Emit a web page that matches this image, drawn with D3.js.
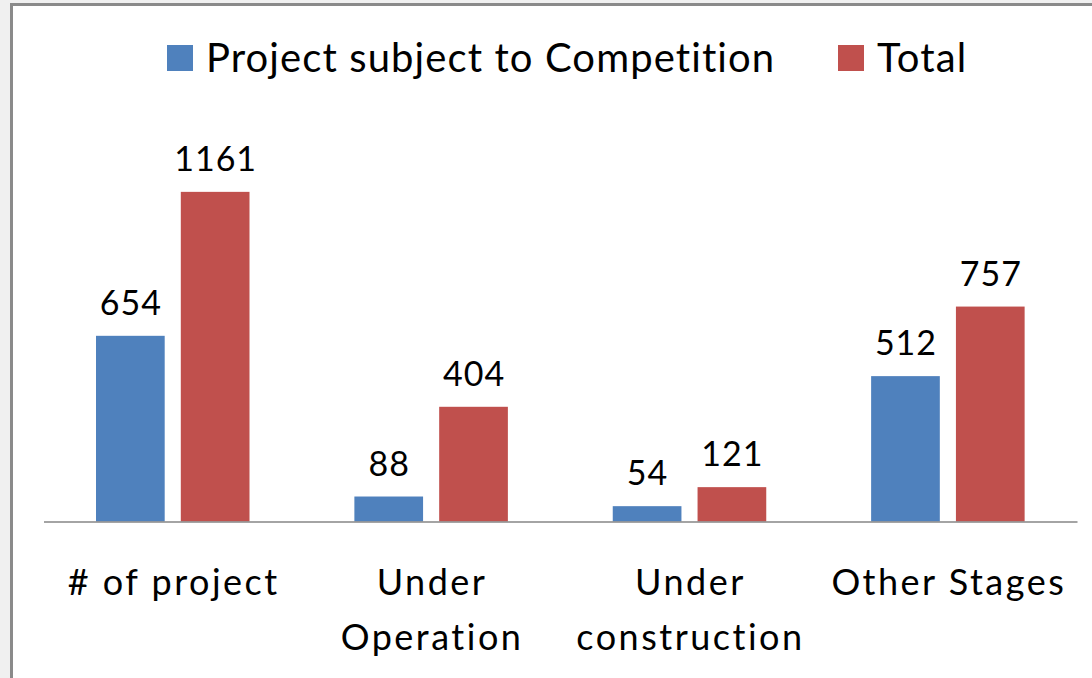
<!DOCTYPE html>
<head>
    <meta charset="utf-8">
    <script src="https://d3js.org/d3.v7.min.js"></script>
    <style>
        body { margin:0; background:#f0f0f0; }
        text { font-family: Lato, "Open Sans", sans-serif; fill: #000; font-variant-ligatures: none; }
        .label { font-size: 34px; text-anchor: middle; letter-spacing: 1px; }
        .cat { font-size: 36px; text-anchor: middle; letter-spacing: 2.5px; }
        .legend { font-size: 40px; letter-spacing: 1.1px; }
    </style>
</head>

<body>
<script>
    var categories = ['# of project', 'Under Operation', 'Under construction', 'Other Stages'];
    var seriesNames = ['Project subject to Competition', 'Total'];
    var competition = [654, 88, 54, 512];
    var total = [1161, 404, 121, 757];
    var colors = ['#4f81bd', '#c0504d'];

    var width = 1092;
    var height = 678;
    var baseY = 521.5;

    var data = categories.map((c, i) => ({
        cat: c,
        values: [
            { key: seriesNames[0], value: competition[i] },
            { key: seriesNames[1], value: total[i] }
        ]
    }));

    var svg = d3.select("body").append("svg")
        .attr("width", width)
        .attr("height", height)
        .style("display", "block");

    // chart frame
    svg.append('rect')
        .attr('x', 11.5).attr('y', 4.5)
        .attr('width', width + 20).attr('height', height + 20)
        .attr('fill', '#fff')
        .attr('stroke', '#8a8a8a')
        .attr('stroke-width', 3);

    var x = d3.scaleBand()
        .domain(categories)
        .range([43.5, 1077]);

    var x1 = d3.scaleBand()
        .domain(seriesNames)
        .range([52.5, 206])
        .paddingInner(0.19);

    var y = d3.scaleLinear()
        .domain([0, 1400])
        .range([baseY, 124]);

    var color = d3.scaleOrdinal().domain(seriesNames).range(colors);

    var groups = svg.selectAll('.group')
        .data(data)
        .enter().append('g')
        .attr('class', 'group')
        .attr('transform', d => "translate(" + x(d.cat) + ",0)");

    groups.selectAll('rect')
        .data(d => d.values)
        .enter().append('rect')
        .attr('x', d => x1(d.key))
        .attr('y', d => y(d.value))
        .attr('width', x1.bandwidth())
        .attr('height', d => baseY - y(d.value))
        .attr('fill', d => color(d.key));

    groups.selectAll('.label')
        .data(d => d.values)
        .enter().append('text')
        .attr('class', 'label')
        .attr('x', d => x1(d.key) + x1.bandwidth() / 2 + 0.5)
        .attr('y', d => y(d.value) - 21)
        .text(d => d.value);

    // category axis
    var xAxis = svg.append('g')
        .attr('transform', "translate(0," + baseY + ")")
        .call(d3.axisBottom(x).tickSize(0).tickFormat(''));
    xAxis.select('.domain').attr('stroke', '#868686').attr('stroke-width', 1.5);

    var catText = svg.selectAll('.cat')
        .data(categories)
        .enter().append('text')
        .attr('class', 'cat')
        .attr('x', d => x(d) + x.bandwidth() / 2 + 1)
        .attr('y', 595);

    // wrap long labels like Excel does
    catText.each(function(d) {
        var t = d3.select(this);
        var words = d.split(' ');
        var line = [];
        var tspan = t.append('tspan').attr('x', t.attr('x')).attr('dy', 0);
        words.forEach(w => {
            line.push(w);
            tspan.text(line.join(' '));
            if (tspan.node().getComputedTextLength() > 250 && line.length > 1) {
                line.pop();
                tspan.text(line.join(' '));
                line = [w];
                tspan = t.append('tspan').attr('x', t.attr('x')).attr('dy', 55).text(w);
            }
        });
    });

    // legend
    var legendX = [167, 838];
    var legend = svg.selectAll('.legendItem')
        .data(seriesNames)
        .enter().append('g')
        .attr('class', 'legendItem')
        .attr('transform', (d, i) => "translate(" + legendX[i] + ",45)");

    legend.append('rect')
        .attr('width', 26).attr('height', 26)
        .attr('fill', d => color(d));

    legend.append('text')
        .attr('class', 'legend')
        .attr('x', 39)
        .attr('y', 27)
        .text(d => d);
</script>
</body>
